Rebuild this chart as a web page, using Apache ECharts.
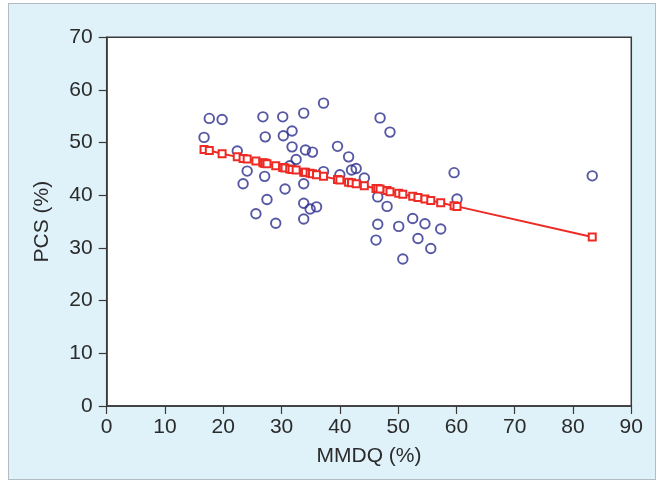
<!DOCTYPE html>
<html>
<head>
<meta charset="utf-8">
<script src="https://cdn.jsdelivr.net/npm/echarts@6/dist/echarts.min.js"></script>
<style>
  html, body { margin: 0; padding: 0; background: #fff; }
  #frame {
    position: absolute; left: 8px; top: 3px; width: 646px; height: 475px;
    background: #dff2fa; border: 1px solid #b3bcc0;
  }
  #chart { position: absolute; left: 0; top: 0; width: 665px; height: 483px; }
</style>
</head>
<body>
<div id="frame"></div>
<div id="chart"></div>
<script>
// observed points
const mmdq = [16.7, 17.6, 19.8, 22.4, 24.1, 23.4, 25.6, 26.8, 27.2, 27.1, 27.5, 29.0, 30.2, 30.3, 30.6, 31.8, 31.8, 32.5, 31.4, 33.8, 34.1, 33.8, 33.8, 33.8, 34.9, 36.0, 35.3, 37.2, 37.2, 39.6, 40.0, 41.5, 42.0, 42.8, 44.2, 46.9, 48.6, 46.5, 46.5, 46.2, 48.1, 50.1, 52.5, 53.4, 54.6, 55.6, 57.3, 50.8, 59.6, 60.1, 83.3]
const pcs = [51.0, 54.6, 54.4, 48.4, 44.6, 42.2, 36.5, 54.9, 51.1, 43.6, 39.2, 34.7, 54.9, 51.3, 41.2, 52.2, 49.2, 46.8, 45.6, 55.6, 48.6, 42.2, 38.5, 35.5, 37.4, 37.8, 48.2, 57.5, 44.5, 49.3, 43.9, 47.3, 44.8, 45.1, 43.3, 54.7, 52.0, 39.7, 34.5, 31.5, 37.9, 34.1, 35.6, 31.8, 34.6, 29.9, 33.6, 27.9, 44.3, 39.3, 43.7]

// fitted line (red squares)
const fitX = [16.7, 17.6, 19.8, 22.4, 23.4, 24.1, 25.6, 26.8, 27.1, 27.2, 27.5, 29.0, 30.2, 30.3, 30.6, 31.4, 31.8, 32.5, 33.8, 34.1, 34.9, 35.3, 36.0, 37.2, 39.6, 40.0, 41.5, 42.0, 42.8, 44.2, 46.2, 46.5, 46.9, 48.1, 48.6, 50.1, 50.8, 52.5, 53.4, 54.6, 55.6, 57.3, 59.6, 60.1, 83.3]
const fitPcs = [48.7, 48.5, 47.9, 47.3, 47.0, 46.9, 46.5, 46.2, 46.1, 46.1, 46.0, 45.6, 45.3, 45.3, 45.2, 45.0, 44.9, 44.8, 44.4, 44.4, 44.2, 44.1, 43.9, 43.6, 43.0, 42.9, 42.5, 42.4, 42.2, 41.8, 41.3, 41.3, 41.2, 40.9, 40.7, 40.4, 40.2, 39.8, 39.6, 39.3, 39.0, 38.6, 38.0, 37.9, 32.1]

const textColor = '#2b2b2b'
const axisColor = '#3a3a3a'
const font = 'Liberation Sans'
const fontSize = 21

const chart = echarts.init(document.getElementById('chart'))

const axisCommon = {
  type: 'value',
  interval: 10,
  axisLine: { show: true, lineStyle: { color: axisColor, width: 1.5 } },
  axisTick: { show: true, inside: false, length: 8, lineStyle: { color: axisColor, width: 1.2 } },
  splitLine: { show: false },
  nameTextStyle: { color: textColor, fontSize, fontFamily: font },
}

chart.setOption({
  backgroundColor: 'transparent',
  animation: false,
  grid: {
    left: 106.7, right: 33.7, top: 37.3, bottom: 77,
    show: true,
    backgroundColor: '#fff',
    borderColor: axisColor,
    borderWidth: 1.5,
  },
  xAxis: {
    ...axisCommon,
    min: 0, max: 90,
    name: 'MMDQ (%)',
    nameLocation: 'middle',
    nameGap: 40,
    axisLabel: { color: textColor, fontSize, fontFamily: font, margin: 11 },
  },
  yAxis: {
    ...axisCommon,
    min: 0, max: 70,
    name: 'PCS (%)',
    nameLocation: 'middle',
    nameGap: 54,
    axisLabel: { color: textColor, fontSize, fontFamily: font, margin: 14 },
  },
  series: [
    {
      type: 'scatter',
      data: mmdq.map((x, i) => [x, pcs[i]]),
      symbol: 'circle',
      symbolSize: 9.5,
      itemStyle: { color: 'rgba(0,0,0,0)', borderColor: '#2c2e8c', borderWidth: 1.9 },
      z: 2,
    },
    {
      type: 'line',
      data: fitX.map((x, i) => [x, fitPcs[i]]),
      symbol: 'emptyRect',
      symbolSize: 7,
      showAllSymbol: true,
      lineStyle: { color: '#ee2a24', width: 2 },
      itemStyle: { color: '#ee2a24', borderColor: '#ee2a24', borderWidth: 1.4 },
      z: 3,
    },
  ],
})
</script>
</body>
</html>
